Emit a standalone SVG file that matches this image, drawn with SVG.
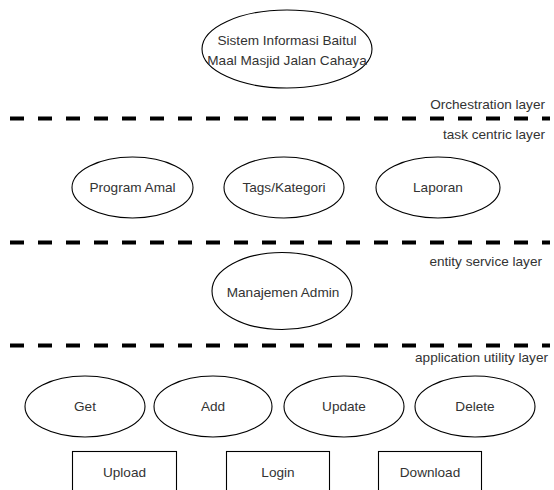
<svg xmlns="http://www.w3.org/2000/svg" width="554" height="490" viewBox="0 0 554 490">
<style>
.n{fill:#fff;stroke:#000;stroke-width:1.1}
.t{font-family:"Liberation Sans",Arial,sans-serif;font-size:13.6px;fill:#333;text-anchor:middle;dominant-baseline:central}
.l{font-family:"Liberation Sans",Arial,sans-serif;font-size:13.6px;fill:#333;text-anchor:end}
.d{stroke:#000;stroke-width:4;stroke-dasharray:14 14;fill:none}
</style>
<rect width="554" height="490" fill="#fff"/>
<g id="connectors">
<line class="d" x1="10" y1="118.5" x2="550" y2="118.5"/>
<line class="d" x1="10" y1="242.5" x2="550" y2="242.5"/>
<line class="d" x1="10" y1="345.5" x2="550" y2="345.5"/>
</g>
<g id="layer-labels">
<text class="l" x="545" y="109">Orchestration layer</text>
<text class="l" x="545" y="139">task centric layer</text>
<text class="l" x="542" y="266">entity service layer</text>
<text class="l" x="548" y="362">application utility layer</text>
</g>
<g id="sistem"><ellipse class="n" cx="287" cy="49" rx="85" ry="39"/><text class="t" x="287" y="40">Sistem Informasi Baitul</text><text class="t" x="287" y="60">Maal Masjid Jalan Cahaya</text></g>
<g id="program-amal"><ellipse class="n" cx="132.5" cy="187.5" rx="60.5" ry="30.5"/><text class="t" x="132.5" y="187.5">Program Amal</text></g>
<g id="tags-kategori"><ellipse class="n" cx="284" cy="187.5" rx="60" ry="30.5"/><text class="t" x="284" y="187.5">Tags/Kategori</text></g>
<g id="laporan"><ellipse class="n" cx="438" cy="187.5" rx="62" ry="30.5"/><text class="t" x="438" y="187.5">Laporan</text></g>
<g id="manajemen-admin"><ellipse class="n" cx="282" cy="291" rx="70" ry="38.5"/><text class="t" x="283" y="292">Manajemen Admin</text></g>
<g id="get"><ellipse class="n" cx="85" cy="406.5" rx="60" ry="30.5"/><text class="t" x="85" y="406.5">Get</text></g>
<g id="add"><ellipse class="n" cx="213" cy="406.5" rx="59" ry="30.5"/><text class="t" x="213" y="406.5">Add</text></g>
<g id="update"><ellipse class="n" cx="344" cy="406.5" rx="60" ry="30.5"/><text class="t" x="344" y="406.5">Update</text></g>
<g id="delete"><ellipse class="n" cx="475" cy="406.5" rx="60" ry="30.5"/><text class="t" x="475" y="406.5">Delete</text></g>
<g id="upload"><rect class="n" x="72.5" y="451.5" width="104" height="42"/><text class="t" x="124.5" y="472">Upload</text></g>
<g id="login"><rect class="n" x="226.5" y="451.5" width="103" height="42"/><text class="t" x="278" y="472">Login</text></g>
<g id="download"><rect class="n" x="378.5" y="451.5" width="103" height="42"/><text class="t" x="430" y="472">Download</text></g>
</svg>
